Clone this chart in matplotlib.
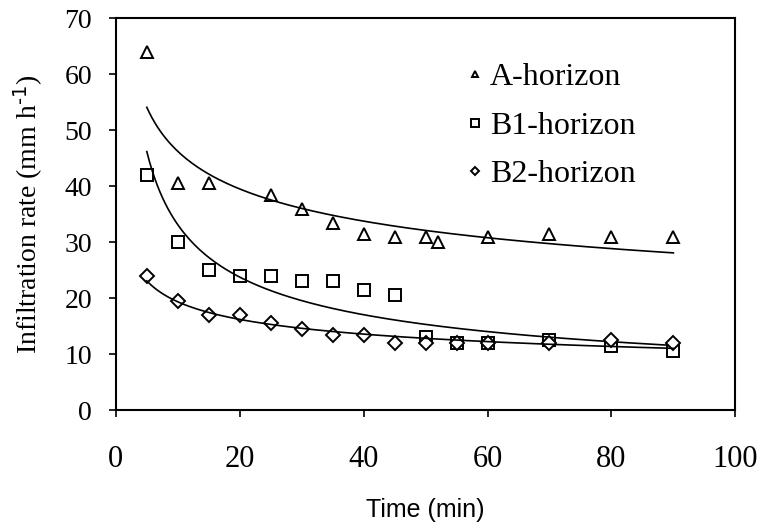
import numpy as np
import matplotlib
matplotlib.use("Agg")
import matplotlib.pyplot as plt

# infiltration measurements per horizon
time_a = [5, 10, 15, 25, 30, 35, 40, 45, 50, 52, 60, 70, 80, 90]
rate_a = [64, 40.5, 40.5, 38.5, 36, 33.5, 31.5, 31, 31, 30, 31, 31.5, 31, 31]

time_b1 = [5, 10, 15, 20, 25, 30, 35, 40, 45, 50, 55, 60, 70, 80, 90]
rate_b1 = [42, 30, 25, 24, 24, 23, 23, 21.5, 20.5, 13, 12, 12, 12.5, 11.5, 10.5]

time_b2 = [5, 10, 15, 20, 25, 30, 35, 40, 45, 50, 55, 60, 70, 80, 90]
rate_b2 = [24, 19.5, 17, 17, 15.5, 14.5, 13.5, 13.5, 12, 12, 12, 12, 12, 12.5, 12]

labels = ["A-horizon", "B1-horizon", "B2-horizon"]
markers = ["^", "s", "D"]
marker_sizes = [8, 9, 7]

plt.rcParams["font.family"] = "serif"
plt.rcParams["font.serif"] = ["Liberation Serif"]
plt.rcParams["font.sans-serif"] = ["Liberation Sans"]
plt.rcParams["mathtext.default"] = "regular"

fig = plt.figure(figsize=(7.62, 5.30), dpi=100)
ax = fig.add_axes([0.152, 0.226, 0.813, 0.740])


def power_fit(t, y):
    # power trend y = a * t^b, fitted in log-log space
    b, log_a = np.polyfit(np.log(t), np.log(y), 1)
    tt = np.linspace(min(t), max(t), 200)
    return tt, np.exp(log_a) * tt ** b


series = [(time_a, rate_a), (time_b1, rate_b1), (time_b2, rate_b2)]
for (t, y), lab, m, ms in zip(series, labels, markers, marker_sizes):
    ax.plot(t, y, linestyle="none", marker=m, markersize=ms, markerfacecolor="white",
            markeredgecolor="black", markeredgewidth=1.4, label=lab)
    tt, yy = power_fit(t, y)
    ax.plot(tt, yy, color="black", linewidth=1.2)

ax.set_xlim(0, 100)
ax.set_ylim(0, 70)
ax.set_xticks(range(0, 101, 20))
ax.set_yticks(range(0, 71, 10))
ax.tick_params(direction="out", length=5, width=1.2)
ax.tick_params(axis="x", labelsize=22, pad=20)
ax.tick_params(axis="y", labelsize=20, pad=12)
for sp in ax.spines.values():
    sp.set_linewidth(1.5)

ax.set_ylabel("Infiltration rate (mm h$^{\\text{-1}}$)", fontsize=20, labelpad=14)
ax.set_xlabel("Time (min)", fontsize=18, family="sans-serif", labelpad=17)

ax.legend(loc="upper left", bbox_to_anchor=(0.547, 0.918), frameon=False, fontsize=23,
          markerscale=0.6, handlelength=0.5, handletextpad=0.2, labelspacing=0.6,
          borderaxespad=0)

plt.savefig("out.png", dpi=100)
